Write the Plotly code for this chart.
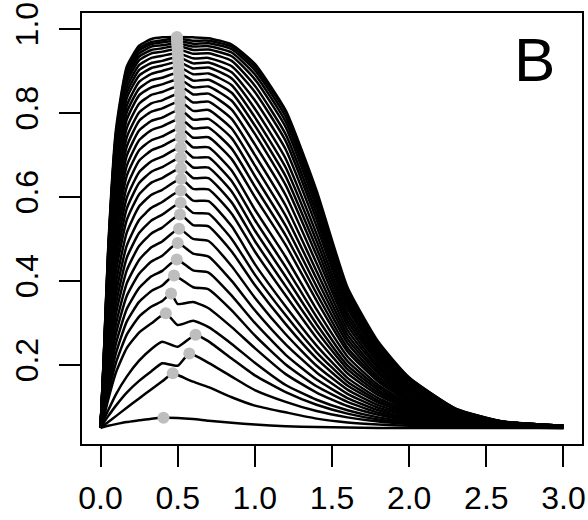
import plotly.graph_objects as go

# Sample positions along the horizontal axis shared by every curve
GRID_X = [0, 0.02, 0.05, 0.1, 0.17, 0.25, 0.33, 0.4, 0.5, 0.6, 0.7, 0.85,
          1.0, 1.2, 1.4, 1.6, 1.8, 2.0, 2.3, 2.6, 3.0]

# Maximum of each curve (grey markers)
PEAK_X = [0.408, 0.468, 0.575, 0.616, 0.423, 0.457, 0.476, 0.494, 0.500, 0.509,
          0.515, 0.519, 0.520, 0.522, 0.521, 0.520, 0.520, 0.520, 0.518, 0.517,
          0.516, 0.515, 0.514, 0.512, 0.510, 0.508, 0.506, 0.504, 0.502, 0.500,
          0.500, 0.498, 0.497, 0.496, 0.495, 0.495]
PEAK_Y = [0.074, 0.180, 0.227, 0.272, 0.323, 0.370, 0.413, 0.451, 0.490, 0.524,
          0.558, 0.586, 0.615, 0.643, 0.669, 0.694, 0.718, 0.742, 0.765, 0.787,
          0.808, 0.828, 0.847, 0.865, 0.881, 0.896, 0.910, 0.922, 0.933, 0.943,
          0.952, 0.960, 0.966, 0.972, 0.977, 0.981]

# Curve values at GRID_X (None where the curve's maximum sits instead)
CURVE_Y = [
    [.05, .052, .055, .059, .064, .068, .072, None, .0735, .071, .067, .062, .058, .054, .052, .051, .05, .05, .05, .05, .05],
    [.05, .056, .064, .078, .098, .12, .142, .161, .176, .16, .147, .123, .103, .087, .072, .063, .058, .055, .052, .051, .05],
    [.05, .062, .078, .103, .134, .162, .185, .204, .198, None, .205, .172, .14, .112, .09, .075, .065, .059, .054, .052, .05],
    [.05, .068, .092, .13, .172, .21, .238, .255, .243, None, .256, .215, .175, .135, .105, .084, .07, .062, .055, .052, .051],
    [.05, .073, .118, .182, .240, .277, .299, None, .295, .305, .29, .25, .205, .152, .117, .092, .075, .065, .057, .053, .051],
    [.05, .077, .131, .205, .272, .315, .339, .352, .345, .35, .335, .29, .24, .178, .134, .102, .081, .068, .058, .053, .051],
    [.05, .081, .143, .228, .303, .350, .376, .389, None, .385, .38, .33, .27, .201, .149, .112, .086, .071, .060, .054, .051],
    [.05, .085, .155, .251, .333, .383, .411, .424, None, .425, .42, .365, .30, .224, .165, .121, .092, .075, .061, .055, .051],
    [.05, .090, .168, .274, .364, .417, .446, .460, None, .465, .458, .40, .33, .249, .182, .131, .098, .078, .063, .055, .051],
    [.05, .095, .182, .297, .394, .450, .480, .494, None, .50, .495, .435, .36, .273, .198, .141, .104, .081, .064, .056, .052],
    [.05, .100, .195, .322, .425, .483, .513, .527, None, .533, .53, .47, .39, .297, .215, .151, .110, .085, .065, .056, .052],
    [.05, .104, .209, .345, .455, .514, .544, .558, None, .562, .56, .50, .415, .318, .230, .160, .115, .088, .067, .057, .052],
    [.05, .110, .223, .370, .484, .545, .574, .588, None, .591, .59, .53, .44, .339, .246, .169, .121, .091, .068, .057, .052],
    [.05, .115, .239, .395, .515, .577, .605, .617, None, .619, .618, .56, .47, .365, .264, .180, .128, .095, .069, .058, .052],
    [.05, .122, .255, .422, .545, .606, .634, .645, None, .645, .645, .587, .495, .387, .281, .190, .134, .099, .071, .058, .052],
    [.05, .126, .268, .444, .572, .633, .660, .671, None, .670, .670, .613, .52, .410, .297, .199, .140, .102, .072, .058, .052],
    [.05, .132, .283, .466, .598, .659, .685, .696, None, .694, .694, .638, .545, .433, .314, .209, .146, .105, .073, .059, .053],
    [.05, .137, .297, .489, .624, .686, .711, .721, None, .718, .718, .663, .57, .457, .332, .220, .152, .109, .075, .059, .053],
    [.05, .143, .311, .513, .650, .711, .735, .744, None, .741, .742, .69, .60, .485, .353, .232, .160, .113, .076, .060, .053],
    [.05, .148, .325, .533, .674, .735, .759, .768, None, .763, .765, .715, .625, .508, .370, .241, .166, .117, .078, .060, .053],
    [.05, .153, .337, .553, .698, .758, .781, .789, None, .784, .786, .74, .65, .531, .387, .252, .172, .121, .079, .061, .054],
    [.05, .158, .352, .575, .720, .781, .803, .811, None, .805, .807, .763, .675, .555, .405, .262, .179, .124, .081, .061, .054],
    [.05, .163, .364, .593, .742, .801, .823, .830, None, .825, .827, .786, .70, .579, .423, .272, .185, .129, .082, .062, .054],
    [.05, .168, .378, .615, .764, .822, .843, .850, None, .844, .846, .808, .725, .604, .442, .283, .192, .132, .083, .062, .054],
    [.05, .174, .391, .634, .784, .842, .861, .868, None, .861, .863, .829, .75, .628, .461, .294, .198, .137, .084, .063, .054],
    [.05, .177, .401, .648, .801, .858, .878, .884, None, .877, .879, .848, .77, .649, .478, .304, .205, .140, .085, .063, .054],
    [.05, .181, .410, .663, .817, .874, .893, .900, None, .892, .894, .866, .79, .670, .495, .314, .211, .144, .087, .063, .054],
    [.05, .187, .422, .681, .835, .889, .907, .913, None, .906, .908, .882, .81, .691, .512, .324, .217, .147, .088, .064, .055],
    [.05, .190, .431, .693, .848, .902, .919, .924, None, .918, .920, .897, .83, .713, .530, .335, .223, .151, .089, .064, .055],
    [.05, .194, .440, .706, .861, .914, .931, .936, None, .930, .931, .911, .85, .733, .546, .344, .229, .155, .090, .064, .055],
    [.05, .198, .449, .717, .873, .925, .942, .946, None, .941, .942, .924, .865, .749, .560, .352, .234, .158, .092, .065, .055],
    [.05, .200, .457, .727, .883, .934, .950, .954, None, .950, .951, .935, .88, .766, .574, .360, .239, .161, .092, .065, .055],
    [.05, .203, .464, .737, .892, .942, .958, .961, None, .958, .959, .944, .892, .779, .586, .367, .244, .164, .094, .065, .055],
    [.05, .206, .471, .746, .900, .949, .964, .968, None, .965, .966, .952, .902, .791, .596, .374, .248, .166, .094, .065, .055],
    [.05, .207, .472, .750, .905, .954, .969, .973, None, .972, .972, .958, .91, .802, .606, .379, .251, .169, .096, .065, .055],
    [.05, .21, .48, .76, .91, .96, .976, .98, None, .98, .978, .963, .917, .806, .615, .385, .255, .17, .096, .066, .055],
]

X_TICKS = [0.0, 0.5, 1.0, 1.5, 2.0, 2.5, 3.0]
X_TICK_TEXT = ["0.0", "0.5", "1.0", "1.5", "2.0", "2.5", "3.0"]
Y_TICKS = [0.2, 0.4, 0.6, 0.8, 1.0]
Y_TICK_TEXT = ["0.2", "0.4", "0.6", "0.8", "1.0"]

FONT = "Liberation Sans, Arial, Helvetica, sans-serif"

fig = go.Figure()

for row, pk_x, pk_y in zip(CURVE_Y, PEAK_X, PEAK_Y):
    pts = [(x, y) for x, y in zip(GRID_X, row) if y is not None]
    pts.append((pk_x, pk_y))
    pts.sort()
    xs = [p[0] for p in pts]
    ys = [p[1] for p in pts]
    fig.add_trace(go.Scatter(
        x=xs, y=ys, mode="lines",
        line=dict(color="black", width=2.5, shape="spline", smoothing=0.5),
        hoverinfo="skip", showlegend=False,
    ))

fig.add_trace(go.Scatter(
    x=PEAK_X, y=PEAK_Y, mode="markers",
    marker=dict(color="#BEBEBE", size=12, line=dict(width=0)),
    showlegend=False,
))

axis_common = dict(
    showline=True, linecolor="black", linewidth=2, mirror=True,
    ticks="outside", ticklen=21, tickwidth=2, tickcolor="black",
    showgrid=False, zeroline=False,
    tickfont=dict(family=FONT, size=32, color="black"),
)

fig.update_layout(
    width=588, height=520,
    margin=dict(l=82, r=2, t=12, b=76),
    paper_bgcolor="white", plot_bgcolor="white",
    xaxis=dict(range=[-0.12, 3.12], tickvals=X_TICKS, ticktext=X_TICK_TEXT,
               ticklabelstandoff=4, **axis_common),
    yaxis=dict(range=[0.0116, 1.038], tickvals=Y_TICKS, ticktext=Y_TICK_TEXT,
               tickangle=-90, ticklabelstandoff=8, **axis_common),
    annotations=[dict(
        x=2.81, y=0.928, xref="x", yref="y", text="B", showarrow=False,
        font=dict(family=FONT, size=62, color="black"),
        xanchor="center", yanchor="middle",
    )],
)

fig.write_html("out.html")
